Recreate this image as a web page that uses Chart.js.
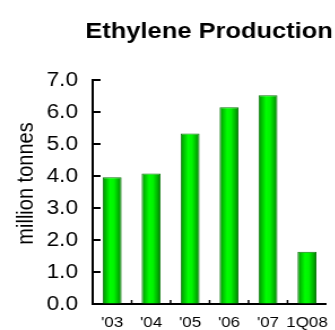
<!DOCTYPE html>
<html>
<head>
<meta charset="utf-8">
<title>Ethylene Production</title>
<script src="https://cdn.jsdelivr.net/npm/chart.js@4.4.1/dist/chart.umd.min.js"></script>
<style>
  html, body { margin: 0; padding: 0; overflow: hidden; background: #fff; }
  /* the drawing is widened slightly so the type sits wide like the printed chart */
  #wrap { width: 301px; height: 330px; transform: scaleX(1.13); transform-origin: 0 0; }
</style>
</head>
<body>
<div id="wrap"><canvas id="c" width="301" height="330"></canvas></div>
<script>
// Annual ethylene output (million tonnes)
const categories = ["'03", "'04", "'05", "'06", "'07", "1Q08"];
const production = [3.96, 4.08, 5.33, 6.15, 6.52, 1.63];
const yTicks = [0, 1, 2, 3, 4, 5, 6, 7];
const chartTitle = 'Ethylene Production';
const yTitle = 'million tonnes';

const FONT = '"Liberation Sans", Arial, sans-serif';
Chart.defaults.font.family = FONT;
Chart.defaults.color = '#000';

const BAR_PCT = 0.485;

// cylinder-like green shading across each bar
function barFill(c) {
  const chart = c.chart;
  const xs = chart.scales.x;
  if (!chart.chartArea || !xs) return '#00e000';
  const cx = xs.getPixelForValue(c.dataIndex);
  const w = (xs.width / categories.length) * BAR_PCT;
  const g = chart.ctx.createLinearGradient(cx - w / 2, 0, cx + w / 2, 0);
  g.addColorStop(0, '#0b860b');
  g.addColorStop(0.14, '#00b800');
  g.addColorStop(0.4, '#00ff00');
  g.addColorStop(0.6, '#00f400');
  g.addColorStop(0.86, '#00aa00');
  g.addColorStop(1, '#077407');
  return g;
}

// inward tick marks on both axes, plus the heading and axis caption
const decorations = {
  id: 'decorations',
  afterDraw(chart) {
    const { ctx, chartArea: a, scales: { x, y } } = chart;
    ctx.save();
    ctx.strokeStyle = '#000';

    ctx.lineWidth = 2;
    yTicks.forEach(v => {
      const py = Math.round(y.getPixelForValue(v));
      ctx.beginPath();
      ctx.moveTo(a.left, py);
      ctx.lineTo(a.left + 7, py);
      ctx.stroke();
    });

    ctx.lineWidth = 1.5;
    for (let i = 1; i < categories.length; i++) {
      const px = (x.getPixelForValue(i - 1) + x.getPixelForValue(i)) / 2;
      ctx.beginPath();
      ctx.moveTo(px, a.bottom);
      ctx.lineTo(px, a.bottom - 4);
      ctx.stroke();
    }

    ctx.fillStyle = '#000';
    ctx.textAlign = 'center';
    ctx.textBaseline = 'alphabetic';
    ctx.font = 'bold 22.5px ' + FONT;
    ctx.fillText(chartTitle, 185, 38);

    ctx.translate(29, 183.5);
    ctx.rotate(-Math.PI / 2);
    ctx.font = '20px ' + FONT;
    ctx.fillText(yTitle, 0, 0);
    ctx.restore();
  }
};

new Chart(document.getElementById('c'), {
  type: 'bar',
  data: {
    labels: categories,
    datasets: [{
      data: production,
      backgroundColor: barFill,
      borderColor: '#0c7a0c',
      borderWidth: 1,
      borderSkipped: 'bottom',
      barPercentage: BAR_PCT,
      categoryPercentage: 1
    }]
  },
  options: {
    responsive: false,
    devicePixelRatio: 1,
    animation: false,
    layout: { padding: { top: 80, right: 0, bottom: 0, left: 0 } },
    plugins: { legend: { display: false }, tooltip: { enabled: false }, title: { display: false } },
    scales: {
      x: {
        offset: true,
        afterFit(scale) { scale.height = 26; },
        grid: { display: true, drawOnChartArea: false, drawTicks: false, lineWidth: 1 },
        border: { display: true, color: '#000', width: 2 },
        ticks: { padding: 11, font: { size: 15, lineHeight: 1 }, color: '#000', maxRotation: 0, autoSkip: false }
      },
      y: {
        min: 0,
        max: 7,
        afterFit(scale) { scale.width = 82; },
        afterBuildTicks(scale) { scale.ticks = yTicks.map(v => ({ value: v })); },
        grid: { display: true, drawOnChartArea: false, drawTicks: false, lineWidth: 1 },
        border: { display: true, color: '#000', width: 2 },
        ticks: {
          padding: 13,
          font: { size: 20 },
          color: '#000',
          callback: v => Number(v).toFixed(1)
        }
      }
    }
  },
  plugins: [decorations]
});
</script>
</body>
</html>
